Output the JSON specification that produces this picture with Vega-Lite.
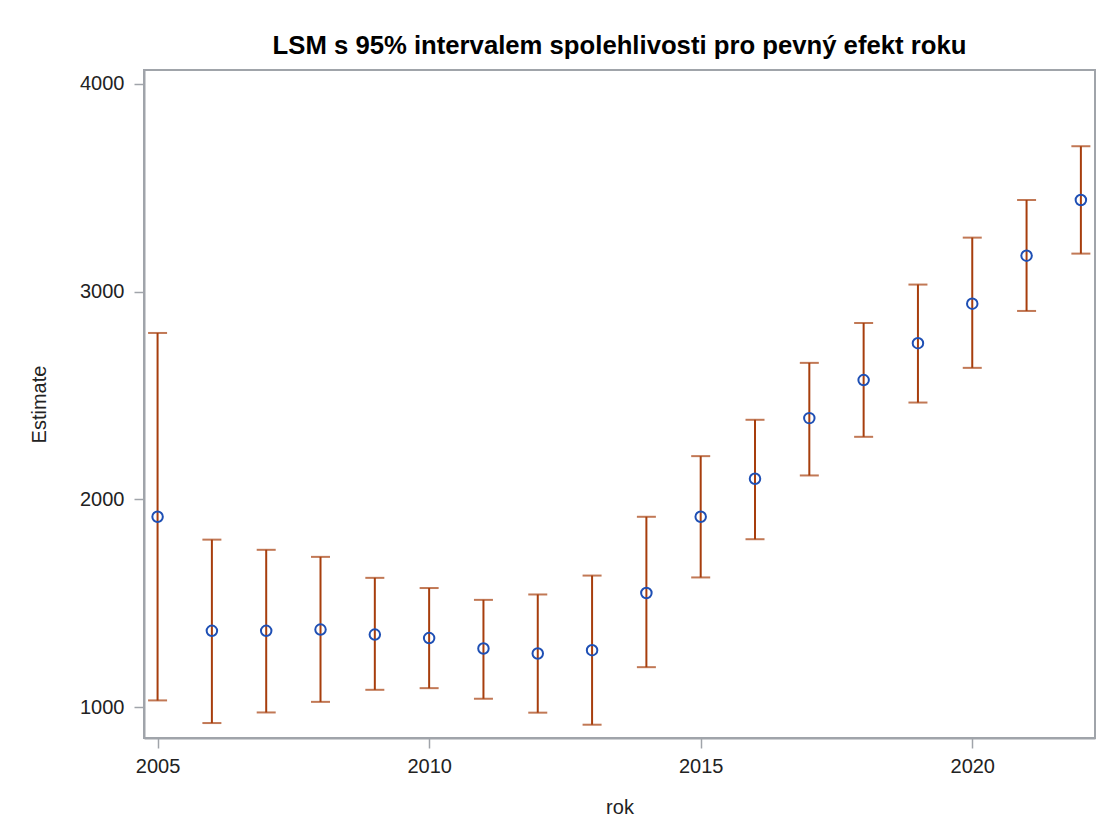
{
  "$schema": "https://vega.github.io/schema/vega-lite/v6.json",
  "width": 951,
  "height": 668,
  "autosize": {"type": "none"},
  "padding": {"left": 144, "top": 70, "right": 9, "bottom": 96},
  "background": "white",
  "title": {
    "text": "LSM s 95% intervalem spolehlivosti pro pevný efekt roku",
    "font": "Liberation Sans",
    "fontSize": 25.7,
    "fontWeight": "bold",
    "color": "#000000",
    "anchor": "middle",
    "offset": 10
  },
  "config": {
    "view": {"stroke": "#A0A4AA", "strokeWidth": 2},
    "axis": {
      "grid": false,
      "domainColor": "#A0A4AA",
      "domainWidth": 2,
      "tickColor": "#A0A4AA",
      "tickWidth": 1.5,
      "tickSize": 10,
      "labelFont": "Liberation Sans",
      "labelFontSize": 20,
      "labelColor": "#222222",
      "titleFont": "Liberation Sans",
      "titleFontSize": 20,
      "titleFontWeight": "normal",
      "titleColor": "#222222"
    }
  },
  "data": {
    "values": [
      {"rok": 2005, "Estimate": 1916, "lower": 1032, "upper": 2801},
      {"rok": 2006, "Estimate": 1367, "lower": 923, "upper": 1806},
      {"rok": 2007, "Estimate": 1367, "lower": 974, "upper": 1757},
      {"rok": 2008, "Estimate": 1373, "lower": 1025, "upper": 1723},
      {"rok": 2009, "Estimate": 1349, "lower": 1083, "upper": 1622},
      {"rok": 2010, "Estimate": 1332, "lower": 1091, "upper": 1573},
      {"rok": 2011, "Estimate": 1282, "lower": 1040, "upper": 1516},
      {"rok": 2012, "Estimate": 1258, "lower": 973, "upper": 1542},
      {"rok": 2013, "Estimate": 1274, "lower": 915, "upper": 1633},
      {"rok": 2014, "Estimate": 1549, "lower": 1192, "upper": 1916},
      {"rok": 2015, "Estimate": 1916, "lower": 1624, "upper": 2208},
      {"rok": 2016, "Estimate": 2099, "lower": 1808, "upper": 2383},
      {"rok": 2017, "Estimate": 2391, "lower": 2115, "upper": 2657},
      {"rok": 2018, "Estimate": 2574, "lower": 2301, "upper": 2849},
      {"rok": 2019, "Estimate": 2752, "lower": 2466, "upper": 3034},
      {"rok": 2020, "Estimate": 2942, "lower": 2633, "upper": 3260},
      {"rok": 2021, "Estimate": 3173, "lower": 2907, "upper": 3441},
      {"rok": 2022, "Estimate": 3441, "lower": 3183, "upper": 3700}
    ]
  },
  "encoding": {
    "x": {
      "field": "rok",
      "type": "quantitative",
      "scale": {"domain": [2004.75, 2022.26], "nice": false, "zero": false},
      "axis": {"title": "rok", "values": [2005, 2010, 2015, 2020], "format": "d", "labelPadding": 8, "titlePadding": 21}
    }
  },
  "layer": [
    {
      "mark": {"type": "rule", "color": "#A73E0D", "strokeWidth": 2},
      "encoding": {
        "y": {
          "field": "lower",
          "type": "quantitative",
          "scale": {"domain": [851, 4067], "nice": false, "zero": false},
          "axis": {"title": "Estimate", "values": [1000, 2000, 3000, 4000], "format": "d", "labelPadding": 10, "titlePadding": 30}
        },
        "y2": {"field": "upper"}
      }
    },
    {
      "mark": {"type": "tick", "color": "#A73E0D", "orient": "horizontal", "size": 19, "thickness": 2},
      "encoding": {"y": {"field": "lower", "type": "quantitative"}}
    },
    {
      "mark": {"type": "tick", "color": "#A73E0D", "orient": "horizontal", "size": 19, "thickness": 2},
      "encoding": {"y": {"field": "upper", "type": "quantitative"}}
    },
    {
      "mark": {"type": "point", "shape": "circle", "filled": false, "color": "#1E4FB4", "size": 110, "strokeWidth": 2, "opacity": 1},
      "encoding": {"y": {"field": "Estimate", "type": "quantitative"}}
    }
  ]
}
